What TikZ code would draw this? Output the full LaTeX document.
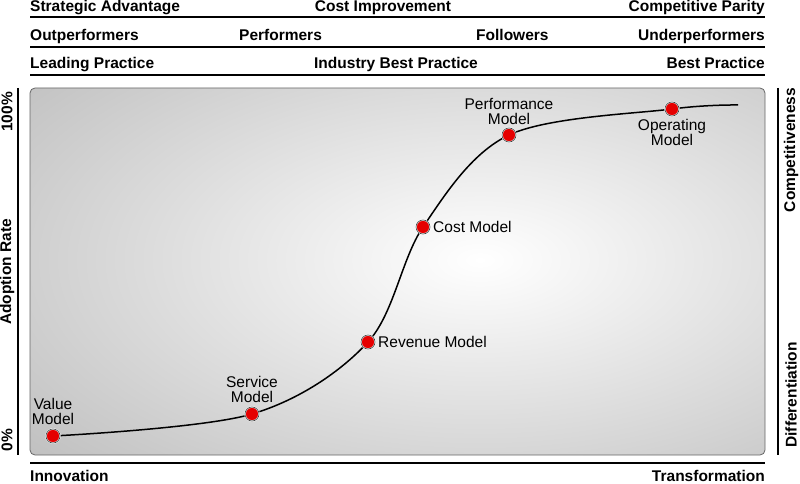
\documentclass[tikz,border=0pt]{standalone}
\usepackage{fontspec}
\setmainfont{Liberation Sans}
\begin{document}
\begin{tikzpicture}[x=1pt,y=-1pt,
  hd/.style={font=\bfseries\fontsize{15.5}{17}\selectfont,inner sep=0pt},
  lb/.style={font=\fontsize{15.5}{15.5}\selectfont,align=center,inner sep=1pt},
  dot/.style={circle,minimum size=14pt,inner sep=0pt,fill=red!90!black,draw=white,line width=1.5pt,
    postaction={draw=black!75,line width=0.6pt,circle}},
  rule/.style={line width=1.3pt}]
\useasboundingbox (0,0) rectangle (800,484);
% header rows
\node[hd,anchor=base west] (h1a) at (30,12) {Strategic Advantage};
\node[hd,anchor=base] (h1b) at (383,12) {Cost Improvement};
\node[hd,anchor=base east] (h1c) at (765,12) {Competitive Parity};
\coordinate (l1a) at (30,17); \coordinate (l1b) at (765,17);
\draw[rule] (l1a) -- (l1b);
\node[hd,anchor=base west] (h2a) at (30,41) {Outperformers};
\node[hd,anchor=base west] (h2b) at (239,41) {Performers};
\node[hd,anchor=base west] (h2c) at (476,41) {Followers};
\node[hd,anchor=base east] (h2d) at (765,41) {Underperformers};
\coordinate (l2a) at (30,47); \coordinate (l2b) at (765,47);
\draw[rule] (l2a) -- (l2b);
\node[hd,anchor=base west] (h3a) at (30,69) {Leading Practice};
\node[hd,anchor=base] (h3b) at (396,69) {Industry Best Practice};
\node[hd,anchor=base east] (h3c) at (765,69) {Best Practice};
\coordinate (l3a) at (30,75); \coordinate (l3b) at (765,75);
\draw[rule] (l3a) -- (l3b);
% box
\begin{scope}
\clip[rounded corners=5pt] (30,88) rectangle (765,455);
\shade[shading=radial,inner color=white,outer color=black!30,shift={(480,260)},xscale=2.2,yscale=1.1] (-330,-330) rectangle (330,330);
\end{scope}
\draw[black!60,line width=0.8pt,rounded corners=5pt] (30,88) rectangle (765,455);
% side rules
\coordinate (ls1) at (18,88); \coordinate (ls2) at (18,455);
\draw[rule] (ls1) -- (ls2);
\node[hd,rotate=90] (p100) at (7,112) {100\%};
\node[hd,rotate=90] (p0) at (7,440) {0\%};
\node[hd,rotate=90] (ar) at (7,272) {Adoption Rate};
\coordinate (rs1) at (778,88); \coordinate (rs2) at (778,455);
\draw[rule] (rs1) -- (rs2);
\node[hd,rotate=90] (cp) at (791,150) {Competitiveness};
\node[hd,rotate=90] (df) at (791,395) {Differentiation};
% bottom
\coordinate (bl1) at (30,463); \coordinate (bl2) at (765,463);
\draw[rule] (bl1) -- (bl2);
\node[hd,anchor=base west] (inn) at (30,481) {Innovation};
\node[hd,anchor=base east] (trf) at (765,481) {Transformation};
% curve
\coordinate (vm) at (53,436);
\coordinate (sm) at (252,414);
\coordinate (rm) at (368,342);
\coordinate (cm) at (423,227);
\coordinate (pm) at (509,135);
\coordinate (om) at (672,109);
\coordinate (end) at (738,105);
\draw[line width=1.5pt] plot[smooth,tension=0.55] coordinates {(53,436) (252,414) (368,342) (423,227) (509,135) (672,109) (738,105)};
\node[dot] (v) at (vm) {};
\node[dot] (s) at (sm) {};
\node[dot] (r) at (rm) {};
\node[dot] (c) at (cm) {};
\node[dot] (p) at (pm) {};
\node[dot] (o) at (om) {};
\node[lb,anchor=south] (vl) at (53,426) {Value\\Model};
\node[lb,anchor=south] (sl) at (252,404) {Service\\Model};
\node[lb,anchor=west] (rl) at (377,342) {Revenue Model};
\node[lb,anchor=west] (cl) at (432,227) {Cost Model};
\node[lb,anchor=south] (pl) at (509,126) {Performance\\Model};
\node[lb,anchor=north] (ol) at (672,118) {Operating\\Model};
\end{tikzpicture}
\end{document}
